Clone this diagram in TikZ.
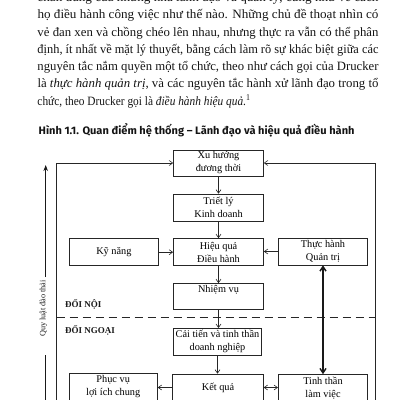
\documentclass[tikz,border=0pt]{standalone}
\usepackage{fontspec}
\usepackage{graphicx}
\setmainfont{Liberation Serif}
\newfontfamily\capfont{Fira Sans}
\usetikzlibrary{arrows.meta}
\newcommand{\jline}[2]{\resizebox{#1}{\height}{#2}}
\begin{document}
\begin{tikzpicture}[x=1pt,y=-1pt,
  box/.style={draw=black!85, line width=0.7pt, minimum width=90pt, minimum height=27pt,
    inner sep=0pt, align=center, font=\fontsize{10.3}{13}\selectfont, text=black},
  arr/.style={draw=black!85, line width=0.6pt, -{Straight Barb[length=3.5pt,width=5pt]}},
  dblarr/.style={draw=black!85, line width=0.6pt, {Straight Barb[length=3.5pt,width=5pt]}-{Straight Barb[length=3.5pt,width=5pt]}},
  thickarr/.style={draw=black!90, line width=1.4pt, {Straight Barb[length=4.5pt,width=6pt]}-{Straight Barb[length=4.5pt,width=6pt]}},
  bigarr/.style={draw=black!90, line width=0.9pt, -{Stealth[length=6pt,width=4.5pt]}},
  plain/.style={draw=black!90, line width=0.9pt},
  body/.style={anchor=base west, inner sep=0pt, font=\fontsize{12.7}{15}\selectfont, text=black!92},
  zone/.style={anchor=base west, inner sep=0pt, font=\fontsize{9}{11}\selectfont\bfseries, text=black!90},
  dashline/.style={draw=black!85, line width=1pt, dash pattern=on 8pt off 5pt},
]
\useasboundingbox (0,0) rectangle (400,400);
\clip (0,0) rectangle (400,400);

% body text
\node[body] (l0) at (37.3,1) {\jline{341pt}{chân dung của những nhà lãnh đạo và quản lý, cũng như về cách}};
\node[body] (l1) at (37.3,18.3) {\jline{341pt}{họ điều hành công việc như thế nào. Những chủ đề thoạt nhìn có}};
\node[body] (l2) at (37.3,36) {\jline{341pt}{vẻ đan xen và chồng chéo lên nhau, nhưng thực ra vẫn có thể phân}};
\node[body] (l3) at (37.3,53.3) {\jline{341pt}{định, ít nhất về mặt lý thuyết, bằng cách làm rõ sự khác biệt giữa các}};
\node[body] (l4) at (37.3,70.7) {\jline{341pt}{nguyên tắc nắm quyền một tổ chức, theo như cách gọi của Drucker}};
\node[body] (l5) at (37.3,87.7) {\jline{341pt}{là \textit{thực hành quản trị}, và các nguyên tắc hành xử lãnh đạo trong tổ}};
\node[body] (l6) at (37.3,105) {\jline{213pt}{chức, theo Drucker gọi là \textit{điều hành hiệu quả}.\textsuperscript{1}}};

% caption
\node[anchor=base west, inner sep=0pt, text=black!92] (cap) at (38.3,134)
  {\jline{316pt}{\capfont\bfseries\fontsize{10.8}{12}\selectfont Hình 1.1. Quan điểm hệ thống – Lãnh đạo và hiệu quả điều hành}};

% boxes
\node[box, minimum height=26pt] (xh) at (218.5,163) {Xu hướng\\đương thời};
\node[box] (tl) at (218.5,207.5) {Triết lý\\Kinh doanh};
\node[box] (hq) at (218.5,252) {Hiệu quả\\Điều hành};
\node[box, minimum width=88.8pt] (kn) at (113.9,252.2) {Kỹ năng};
\node[box, minimum width=88.4pt] (th) at (323,251.5) {Thực hành\\Quản trị};
\node[box, minimum height=26pt] (nv) at (218.5,296.5) {Nhiệm vụ\\\phantom{g}};
\node[box, minimum width=88pt, minimum height=26.7pt] (ct) at (217.5,341.7) {Cải tiến và tinh thần\\doanh nghiệp};
\node[box, minimum width=90.6pt] (kq) at (218,387.5) {Kết quả};
\node[box, minimum width=88.3pt] (pv) at (113.2,387) {Phục vụ\\lợi ích chung};
\node[box, minimum width=89.4pt] (tt) at (323,388) {Tinh thần\\làm việc};

% zone labels
\node[zone] (dn) at (65,307.3) {ĐỐI NỘI};
\node[zone] (dg) at (65,333.5) {ĐỐI NGOẠI};

% outer loop
\coordinate (lb) at (56.7,410);
\coordinate (rb) at (375.3,410);
\draw[arr] (lb) |- (xh.west);
\draw[arr] (rb) |- (xh.east);

% dashed boundary
\coordinate (dl) at (56.7,317.3);
\coordinate (dr) at (375.3,317.3);
\draw[dashline] (dl) -- (dr);

% central chain
\draw[arr] (xh.south) -- (tl.north);
\draw[arr] (tl.south) -- (hq.north);
\draw[arr] (hq.south) -- (nv.north);
\draw[arr] (nv.south) -- (nv.south |- ct.north);
\draw[arr] (ct.south) -- (ct.south |- kq.north);
\draw[arr] (kn.east) -- (kn.east -| hq.west);
\draw[arr] (th.west) -- (th.west -| hq.east);
\draw[arr] (kq.west) -- (kq.west -| pv.east);
\draw[dblarr] (kq.east) -- (kq.east -| tt.west);
\draw[thickarr] (th.south) -- (th.south |- tt.north);

% selection rule arrow
\node[rotate=90, inner sep=0pt, font=\fontsize{8.2}{10}\selectfont, text=black!90] (ql) at (43.5,308.5) {Quy luật đào thải};
\coordinate (qa) at (45.7,277);
\coordinate (qt) at (45.7,165);
\coordinate (qb1) at (45.7,355);
\coordinate (qb2) at (45.7,410);
\draw[bigarr] (qa) -- (qt);
\draw[plain] (qb2) -- (qb1);
\end{tikzpicture}
\end{document}
